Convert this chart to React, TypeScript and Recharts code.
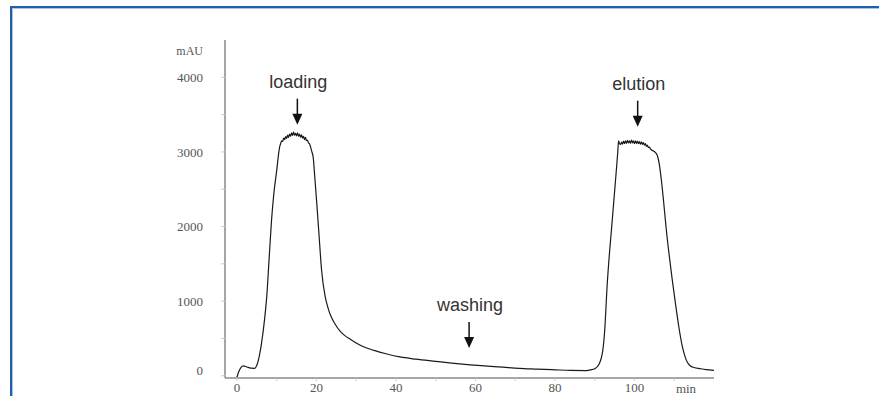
import { LineChart, Line, XAxis, YAxis, ReferenceDot, Label } from "recharts";

// chromatogram trace, [min, mAU]
const loadingPeak: [number, number][] = [
  [0, -20], [0.5, 60], [1, 110], [1.6, 133], [2.5, 118], [3.5, 102], [4.5, 100], [5, 140],
  [5.4, 210], [6.2, 440], [7, 780], [7.5, 1060], [8.1, 1570], [8.7, 2080], [9.3, 2450],
  [10, 2750], [10.5, 2980], [10.8, 3080],
  [11, 3110], [11.25, 3150], [11.5, 3140], [11.75, 3185], [12, 3165], [12.25, 3205],
  [12.5, 3180], [12.75, 3225], [13, 3195], [13.25, 3240], [13.5, 3210], [13.75, 3255],
  [14, 3220], [14.25, 3265], [14.5, 3225], [14.75, 3250], [15, 3215], [15.25, 3255],
  [15.5, 3210], [15.75, 3240], [16, 3195], [16.25, 3230], [16.5, 3185], [16.75, 3210],
  [17, 3165], [17.25, 3195], [17.5, 3150], [17.75, 3160], [18, 3120], [18.25, 3110],
  [18.5, 3070], [18.75, 3020], [19.2, 2920], [19.6, 2650], [20.1, 2300], [20.7, 1850],
  [21.3, 1410], [22.2, 1060],
];

const washingTail: [number, number][] = [
  [22.7, 950], [23.2, 860], [23.8, 780], [24.5, 710], [25.2, 650], [26, 595], [27, 545],
  [28.5, 490], [30, 440], [32, 385], [34.5, 340], [37.5, 295], [41, 252], [45, 222],
  [50, 193], [54, 170], [58.7, 147], [63, 130], [67, 115], [71, 100], [75.5, 90],
  [80, 80], [83.9, 72], [88, 70],
];

const elutionPeak: [number, number][] = [
  [88.9, 80], [90, 95], [91, 147], [92, 330], [92.5, 600], [93.1, 1190], [94.4, 2080],
  [95.2, 2600], [95.8, 3000], [96, 3150], [96.25, 3110], [96.5, 3100], [96.75, 3130],
  [97, 3105], [97.25, 3145], [97.5, 3110], [97.75, 3150], [98, 3115], [98.25, 3155],
  [98.5, 3120], [98.75, 3150], [99, 3115], [99.25, 3160], [99.5, 3120], [99.75, 3150],
  [100, 3110], [100.25, 3150], [100.5, 3115], [100.75, 3145], [101, 3110], [101.25, 3140],
  [101.5, 3105], [101.75, 3135], [102, 3100], [102.25, 3125], [102.5, 3090], [102.75, 3110],
  [103, 3075], [103.25, 3090], [103.5, 3060], [103.75, 3065], [104, 3040], [104.5, 3020],
  [105, 3005], [105.7, 2960], [106.2, 2850], [106.7, 2650], [108.2, 1860], [110.3, 970],
  [111.2, 640], [112, 400], [112.7, 260], [113.3, 180], [114, 135], [115, 110],
  [116.5, 95], [118, 82], [120, 72],
];

const annotations = [
  { label: "loading", min: 15.2, mAU: 3365 },
  { label: "washing", min: 58.4, mAU: 373 },
  { label: "elution", min: 100.8, mAU: 3338 },
];

const xTicks = [0, 10, 20, 30, 40, 50, 60, 70, 80, 90, 100, 110];
const yTicks = [0, 500, 1000, 1500, 2000, 2500, 3000, 3500, 4000];

const data = [...loadingPeak, ...washingTail, ...elutionPeak].map(([t, v]) => ({ t, v }));

const serif = '"Liberation Serif", "DejaVu Serif", serif';
const sans = '"Liberation Sans", Arial, sans-serif';

function Arrow({ cx, cy, label }: { cx?: number; cy?: number; label: string }) {
  if (cx == null || cy == null) return null;
  return (
    <g>
      <text x={cx + 1} y={cy - 37} textAnchor="middle" fontFamily={sans} fontSize={18} fill="#333">
        {label}
      </text>
      <line x1={cx} x2={cx} y1={cy - 26} y2={cy - 9} stroke="#111" strokeWidth={1.5} />
      <path d={`M${cx - 5},${cy - 11} L${cx + 5},${cy - 11} L${cx},${cy} Z`} fill="#111" />
    </g>
  );
}

function YTick({ x, y, payload }: any) {
  const v = payload.value;
  if (v % 1000 !== 0) return null;
  return (
    <text x={x} y={v === 0 ? y - 5 : y} dy="0.355em" textAnchor="end" fontFamily={serif} fontSize={13} fill="#555">
      {v}
    </text>
  );
}

export default function App() {
  return (
    <div style={{ position: "absolute", left: 0, top: 0, width: 879, height: 396, overflow: "hidden", background: "#fff" }}>
      <div
        style={{
          position: "absolute", left: 10, top: 6, width: 900, height: 420,
          border: "2px solid #245ea6", boxShadow: "inset 1px 1px 0 #a9c3e4",
        }}
      />
      <div style={{ position: "absolute", left: 0, top: 0 }}>
        <LineChart width={879} height={420} data={data} margin={{ top: 40, right: 165, bottom: 12, left: 165 }}>
          <XAxis
            dataKey="t" type="number" domain={[-3, 120]} ticks={xTicks} allowDataOverflow
            tickFormatter={(v) => (v % 20 === 0 ? String(v) : "")}
            height={30} tickSize={3} tickMargin={2}
            axisLine={{ stroke: "#888", strokeWidth: 1.5 }} tickLine={{ stroke: "#ccc" }}
            tick={{ fontFamily: serif, fontSize: 13, fill: "#555" }}
          >
            <Label
              content={({ viewBox }: any) =>
                viewBox ? (
                  <text x={viewBox.x + viewBox.width - 28} y={viewBox.y + 15} textAnchor="middle"
                    fontFamily={serif} fontSize={13} fill="#555">min</text>
                ) : null
              }
            />
          </XAxis>
          <YAxis
            type="number" domain={[-30, 4500]} ticks={yTicks} allowDataOverflow
            width={60} tickSize={4} tickMargin={18}
            axisLine={{ stroke: "#888", strokeWidth: 1.5 }} tickLine={{ stroke: "#ccc" }}
            tick={<YTick />}
          >
            <Label
              content={({ viewBox }: any) =>
                viewBox ? (
                  <text x={viewBox.x + viewBox.width - 22} y={viewBox.y + 15} textAnchor="end"
                    fontFamily={serif} fontSize={12} fill="#555">mAU</text>
                ) : null
              }
            />
          </YAxis>
          <Line dataKey="v" type="monotone" stroke="#1a1a1a" strokeWidth={1.2} dot={false} isAnimationActive={false} />
          {annotations.map((a) => (
            <ReferenceDot key={a.label} x={a.min} y={a.mAU} r={0}
              shape={(p: any) => <Arrow cx={p.cx} cy={p.cy} label={a.label} />} />
          ))}
        </LineChart>
      </div>
    </div>
  );
}
